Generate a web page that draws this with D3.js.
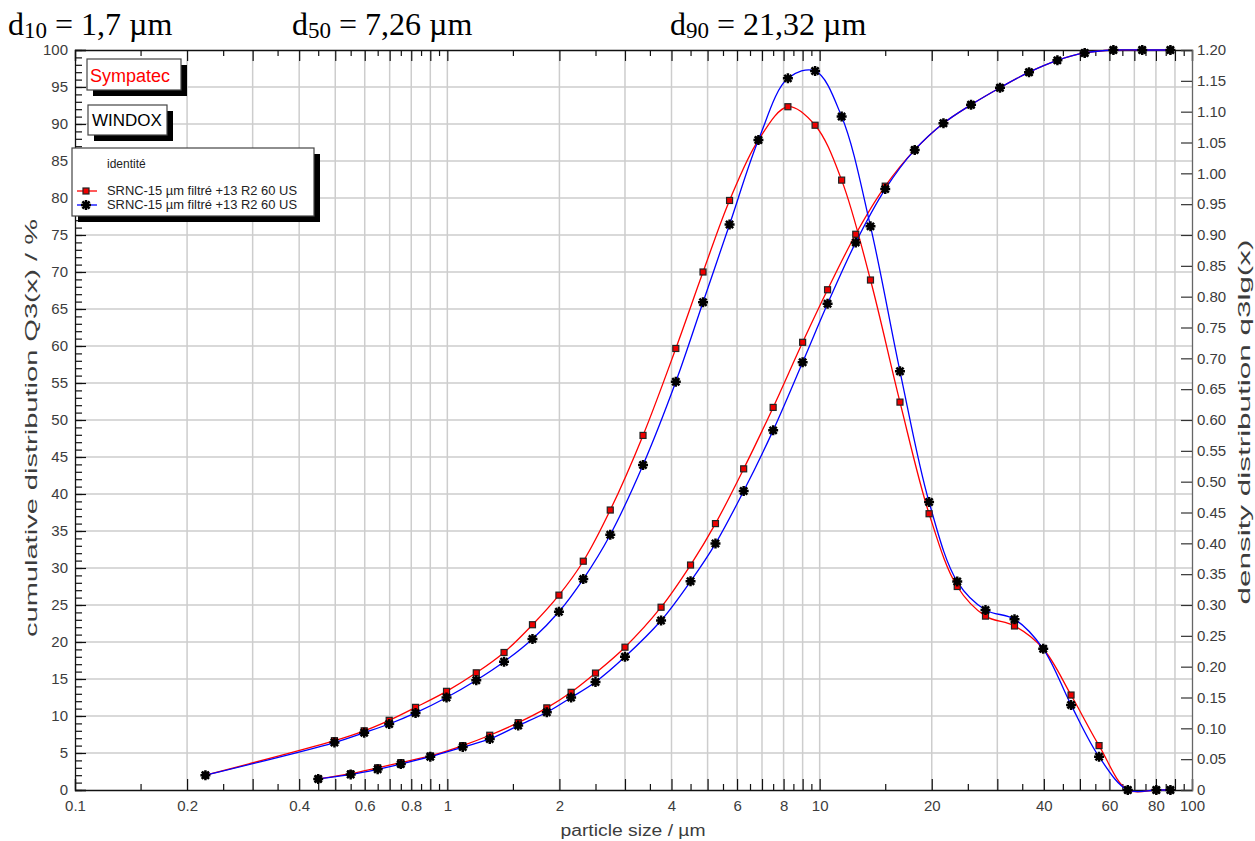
<!DOCTYPE html>
<html>
<head>
<meta charset="utf-8">
<script src="https://cdn.jsdelivr.net/npm/d3@7"></script>
<style>
body { margin: 0; background: #fff; }
text { font-family: "Liberation Sans", Arial, sans-serif; }
</style>
</head>
<body>
<div id="chart"></div>
<script>
`use strict`;

// class upper limits (R2 lens) and cumulative distribution Q3 in %
const sizesQ3 = [0.45, 0.55, 0.65, 0.75, 0.9, 1.1, 1.3, 1.55, 1.85, 2.15, 2.5, 3.0, 3.75, 4.5, 5.25, 6.25,
    7.5, 9.0, 10.5, 12.5, 15, 18, 21.5, 25.5, 30.5, 36.5, 43.5, 51.5, 61.5, 73.5, 87.5];
const q3Red = [1.5, 2.2, 3.0, 3.7, 4.6, 6.0, 7.4, 9.1, 11.1, 13.2, 15.8, 19.3, 24.7, 30.4, 36.0, 43.4,
    51.7, 60.5, 67.6, 75.1, 81.6, 86.5, 90.1, 92.6, 94.9, 97.0, 98.6, 99.6, 100, 100, 100];
const q3Blue = [1.5, 2.1, 2.8, 3.5, 4.5, 5.8, 6.9, 8.7, 10.5, 12.5, 14.6, 18.0, 22.9, 28.2, 33.3, 40.4,
    48.6, 57.8, 65.7, 74.0, 81.2, 86.5, 90.1, 92.6, 94.9, 97.0, 98.6, 99.6, 100, 100, 100];

// class mid points and density distribution q3lg
const sizesQ3lg = [0.224, 0.4975, 0.598, 0.698, 0.8216, 0.995, 1.196, 1.42, 1.693, 1.994, 2.318, 2.739,
    3.354, 4.108, 4.861, 5.728, 6.847, 8.216, 9.721, 11.456, 13.693, 16.432, 19.672, 23.415, 27.888,
    33.365, 39.847, 47.331, 56.278, 67.233, 80.195, 87.5];
const q3lgRed = [0.024, 0.080, 0.096, 0.113, 0.134, 0.160, 0.190, 0.223, 0.268, 0.316, 0.371, 0.454,
    0.575, 0.716, 0.840, 0.956, 1.054, 1.108, 1.078, 0.989, 0.827, 0.629, 0.448, 0.330, 0.282,
    0.266, 0.229, 0.154, 0.072, 0, 0, 0];
const q3lgBlue = [0.024, 0.077, 0.093, 0.107, 0.125, 0.150, 0.178, 0.208, 0.245, 0.289, 0.342, 0.414,
    0.527, 0.662, 0.791, 0.917, 1.054, 1.154, 1.166, 1.092, 0.914, 0.679, 0.467, 0.338, 0.292,
    0.277, 0.229, 0.138, 0.054, 0, 0, 0];

const xLabels = [0.1, 0.2, 0.4, 0.6, 0.8, 1, 2, 4, 6, 8, 10, 20, 40, 60, 80, 100];
const leftTicks = d3.range(0, 101, 5);
const rightTicks = d3.range(0, 25).map((i) => +(i * 0.05).toFixed(2));
const statNames = ['10', '50', '90'];
const statValues = ['1,7', '7,26', '21,32'];
const seriesName = 'SRNC-15 µm filtré +13 R2 60 US';

let w = 1255, h = 841;
let pLeft = 75, pRight = 1192, pTop = 50, pBottom = 790;
let gray = '#3c3c3c';

let svg = d3.select('#chart').append('svg').attr('width', w).attr('height', h);

let x = d3.scaleLog().domain([0.1, 100]).range([pLeft, pRight]);
let yL = d3.scaleLinear().domain([0, 100]).range([pBottom, pTop]);
let yR = d3.scaleLinear().domain([0, 1.2]).range([pBottom, pTop]);

//major ticks on every integer multiple, minor ticks on the halves
let majorX = [], minorX = [];
for (let dec of [0.1, 1, 10]) {
    for (let k = 1; k <= 9; ++k) {
        if (!(dec === 0.1 && k === 1)) majorX.push(+(k * dec).toPrecision(3));
        minorX.push(+((k + 0.5) * dec).toPrecision(3));
    }
}
majorX.unshift(0.1);
majorX.push(100);

//grid
let grid = svg.append('g').attr('stroke', '#cdcdcd').attr('stroke-width', 1.5);
grid.selectAll('line.v').data(majorX.filter((d) => d > 0.1 && d < 100)).enter().append('line')
    .attr('x1', (d) => x(d)).attr('x2', (d) => x(d)).attr('y1', pTop).attr('y2', pBottom);
grid.selectAll('line.h').data(leftTicks.filter((d) => d > 0 && d < 100)).enter().append('line')
    .attr('x1', pLeft).attr('x2', pRight).attr('y1', (d) => yL(d)).attr('y2', (d) => yL(d));

//axes
function styleAxis(g, col) {
    g.select('.domain').attr('stroke', col).attr('stroke-width', 1.3);
    g.selectAll('.tick line').attr('stroke', '#111').attr('stroke-width', 1.2);
    g.selectAll('text').attr('fill', gray).style('font-size', '15px')
        .style('font-family', '"Liberation Sans", Arial, sans-serif');
}

let axisB = d3.axisBottom(x).tickValues(majorX).tickSize(-11).tickPadding(10)
    .tickFormat((d) => xLabels.indexOf(d) >= 0 ? String(d) : '');
svg.append('g').attr('transform', `translate(0,${pBottom})`).call(axisB).call((g) => styleAxis(g, '#111'));
svg.append('g').attr('transform', `translate(0,${pBottom})`)
    .call(d3.axisBottom(x).tickValues(minorX).tickSize(-6).tickFormat(''))
    .call((g) => { styleAxis(g, '#111'); g.select('.domain').remove(); });

svg.append('g').attr('transform', `translate(0,${pTop})`)
    .call(d3.axisTop(x).tickValues(majorX).tickSize(-11).tickFormat(''))
    .call((g) => styleAxis(g, '#111'));
svg.append('g').attr('transform', `translate(0,${pTop})`)
    .call(d3.axisTop(x).tickValues(minorX).tickSize(-6).tickFormat(''))
    .call((g) => { styleAxis(g, '#111'); g.select('.domain').remove(); });

svg.append('g').attr('transform', `translate(${pLeft},0)`)
    .call(d3.axisLeft(yL).tickValues(leftTicks).tickSize(-11).tickPadding(7))
    .call((g) => styleAxis(g, '#111'));
svg.append('g').attr('transform', `translate(${pLeft},0)`)
    .call(d3.axisLeft(yL).tickValues(d3.range(0, 101, 1)).tickSize(-7).tickFormat(''))
    .call((g) => { styleAxis(g, '#111'); g.select('.domain').remove(); });

svg.append('g').attr('transform', `translate(${pRight},0)`)
    .call(d3.axisRight(yR).tickValues(rightTicks).tickSize(-11).tickPadding(5)
        .tickFormat((d) => d === 0 ? '0' : d3.format('.2f')(d)))
    .call((g) => { styleAxis(g, '#666'); g.selectAll('.tick line').attr('stroke', '#333'); });

//axis titles
svg.append('text').attr('transform', `translate(37,${(pTop + pBottom) / 2 + 8}) rotate(-90)`)
    .attr('text-anchor', 'middle').attr('fill', gray).style('font-size', '16px')
    .attr('textLength', 418).attr('lengthAdjust', 'spacingAndGlyphs')
    .text('cumulative distribution Q3(x) / %');
svg.append('text').attr('transform', `translate(1250,${(pTop + pBottom) / 2 + 2}) rotate(-90)`)
    .attr('text-anchor', 'middle').attr('fill', gray).style('font-size', '16px')
    .attr('textLength', 365).attr('lengthAdjust', 'spacingAndGlyphs')
    .text('density distribution q3lg(x)');
svg.append('text').attr('x', 633).attr('y', 836)
    .attr('text-anchor', 'middle').attr('fill', gray).style('font-size', '16px')
    .attr('textLength', 145).attr('lengthAdjust', 'spacingAndGlyphs')
    .text('particle size / µm');

//percentile headline
let statX = [8, 292, 670];
statNames.forEach((n, i) => {
    let t = svg.append('text').attr('x', statX[i]).attr('y', 35)
        .style('font-family', '"Liberation Serif", "Times New Roman", serif').style('font-size', '32px')
        .attr('fill', '#000');
    t.append('tspan').text('d');
    t.append('tspan').attr('dy', 3).style('font-size', '23px').text(n);
    t.append('tspan').attr('dy', -3).text(` = ${statValues[i]} µm`);
});

//curves
let lineL = d3.line().x((d) => x(d[0])).y((d) => yL(d[1])).curve(d3.curveCatmullRom.alpha(0.5));
let lineR = d3.line().x((d) => x(d[0])).y((d) => yR(d[1])).curve(d3.curveCatmullRom.alpha(0.5));

let series = [
    { color: '#ff0000', q3: q3Red, dens: q3lgRed, marker: 'square' },
    { color: '#0000ff', q3: q3Blue, dens: q3lgBlue, marker: 'star' }
];

let plot = svg.append('g');
for (let s of series) {
    plot.append('path').datum(sizesQ3.map((d, i) => [d, s.q3[i]]))
        .attr('d', lineL).attr('fill', 'none').attr('stroke', s.color).attr('stroke-width', 1.3);
    plot.append('path').datum(sizesQ3lg.map((d, i) => [d, s.dens[i]]))
        .attr('d', lineR).attr('fill', 'none').attr('stroke', s.color).attr('stroke-width', 1.3);
}

let starPath = 'M0,-5V5M-5,0H5M-3.6,-3.6L3.6,3.6M-3.6,3.6L3.6,-3.6';
function drawMarker(g, type, px, py) {
    if (type === 'square') {
        g.append('rect').attr('x', px - 3).attr('y', py - 3).attr('width', 6).attr('height', 6)
            .attr('fill', '#ee0000').attr('stroke', '#222').attr('stroke-width', 1.2);
    } else {
        g.append('path').attr('d', starPath).attr('transform', `translate(${px},${py})`)
            .attr('stroke', '#000').attr('stroke-width', 2.5).attr('fill', 'none');
    }
}

let marks = svg.append('g');
for (let s of series) {
    sizesQ3.forEach((d, i) => drawMarker(marks, s.marker, x(d), yL(s.q3[i])));
    sizesQ3lg.forEach((d, i) => drawMarker(marks, s.marker, x(d), yR(s.dens[i])));
}

//boxes with drop shadow
function shadowBox(bx, by, bw, bh) {
    svg.append('rect').attr('x', bx + 6).attr('y', by + 6).attr('width', bw).attr('height', bh).attr('fill', '#000');
    svg.append('rect').attr('x', bx).attr('y', by).attr('width', bw).attr('height', bh)
        .attr('fill', '#fff').attr('stroke', '#444').attr('stroke-width', 1.2);
}
shadowBox(87, 59, 94, 31);
svg.append('text').attr('x', 90).attr('y', 82).attr('fill', '#ff0000').style('font-size', '18px').text('Sympatec');
shadowBox(88, 105, 79, 30);
svg.append('text').attr('x', 92).attr('y', 126).attr('fill', '#000').style('font-size', '17px').text('WINDOX');

shadowBox(72, 148, 242, 68);
svg.append('text').attr('x', 107).attr('y', 168).attr('fill', '#222').style('font-size', '12px').text('identité');
series.forEach((s, i) => {
    let ly = 191 + i * 14;
    svg.append('line').attr('x1', 77).attr('x2', 97).attr('y1', ly).attr('y2', ly)
        .attr('stroke', s.color).attr('stroke-width', 1.3);
    drawMarker(svg, s.marker, 86, ly);
    svg.append('text').attr('x', 107).attr('y', ly + 4).attr('fill', '#222').style('font-size', '12.5px')
        .attr('textLength', 190).attr('lengthAdjust', 'spacingAndGlyphs').text(seriesName);
});
</script>
</body>
</html>
